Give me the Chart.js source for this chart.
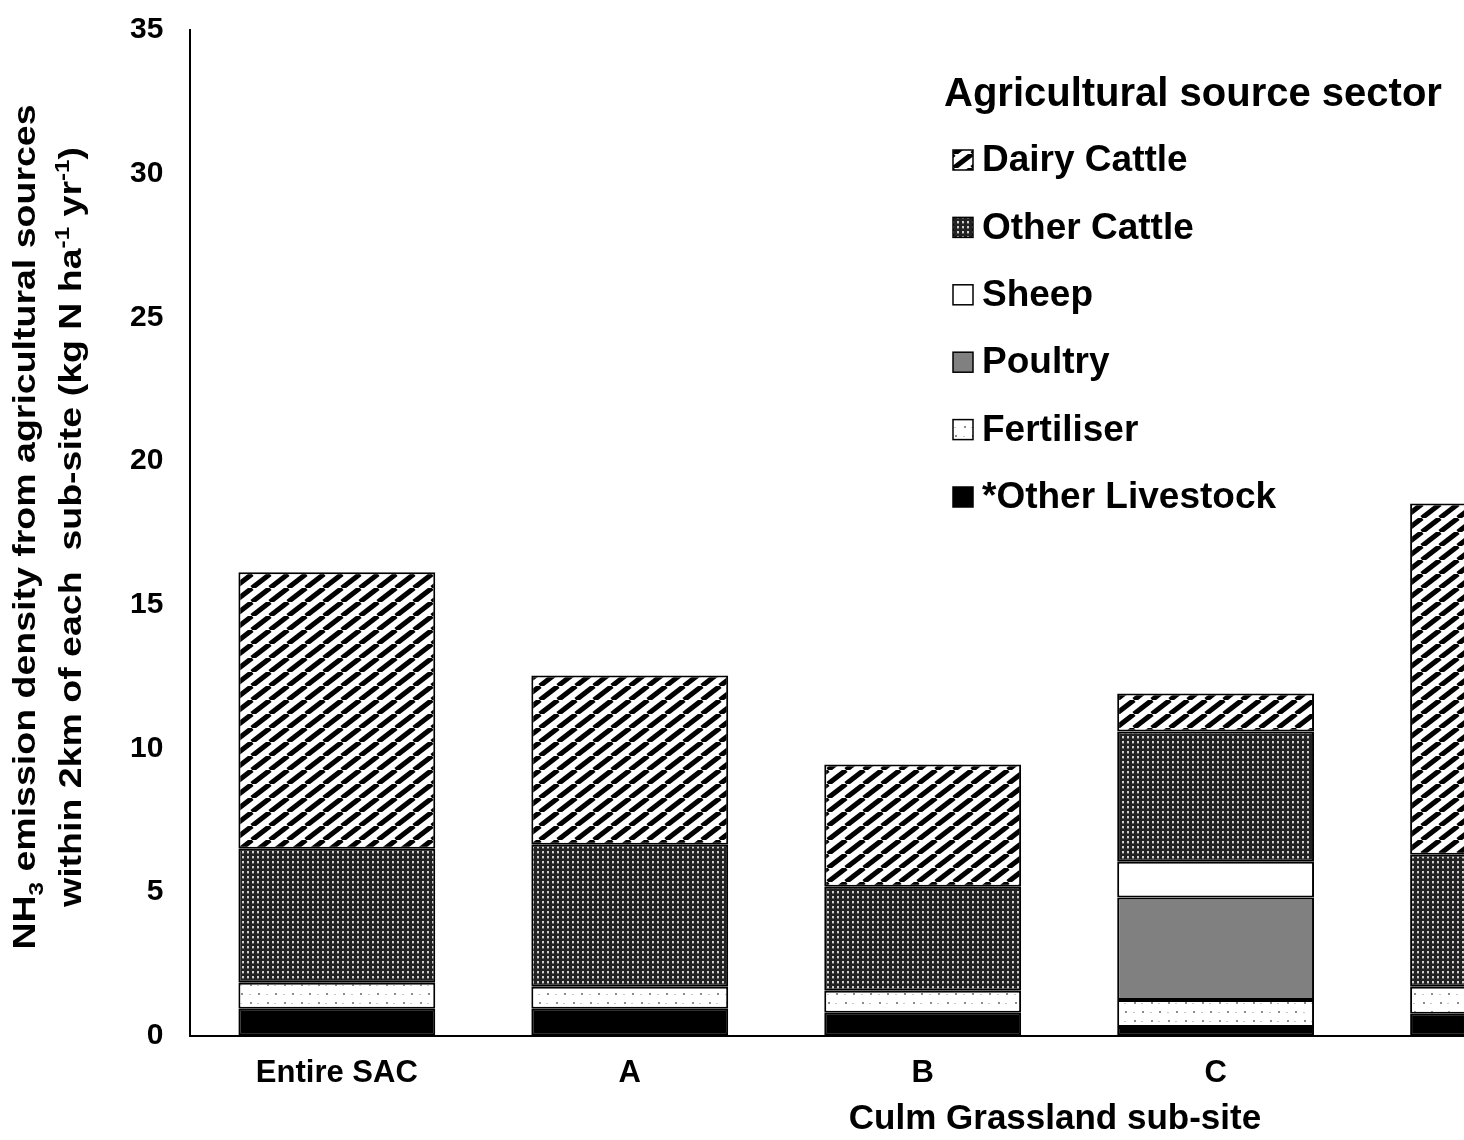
<!DOCTYPE html>
<html>
<head>
<meta charset="utf-8">
<script src="https://cdn.jsdelivr.net/npm/chart.js@4.4.1/dist/chart.umd.min.js"></script>
<style>
  html, body { margin: 0; padding: 0; background: #fff; overflow: hidden; }
  #wrap { width: 1670px; height: 1140px; }
</style>
</head>
<body>
<div id="wrap"><canvas id="emissionChart"></canvas></div>
<script>
const categories = ["Entire SAC", "A", "B", "C", "D"];
const otherLivestock = [0.94, 0.94, 0.8, 0.31, 0.77];
const fertiliser = [0.91, 0.77, 0.77, 0.94, 0.94];
const poultry = [0, 0, 0, 3.56, 0];
const sheep = [0, 0, 0, 1.25, 0];
const otherCattle = [4.66, 4.94, 3.62, 4.53, 4.59];
const dairyCattle = [9.62, 5.89, 4.25, 1.32, 12.22];
const yTicks = [0, 5, 10, 15, 20, 25, 30, 35];

const FONT = "'Liberation Sans', Arial, sans-serif";

// fill patterns like the old excel hatches
const makeTile = (w, h, draw) => {
  let c = document.createElement("canvas");
  c.width = w;
  c.height = h;
  let g = c.getContext("2d");
  draw(g, w, h);
  return document.createElement("canvas").getContext("2d").createPattern(c, "repeat");
};

const stripes = makeTile(18, 14, (g, w, h) => {
  g.fillStyle = "#fff";
  g.fillRect(0, 0, w, h);
  g.strokeStyle = "#000";
  g.lineWidth = 5;
  [-w, 0, w].forEach((dx) => {
    g.beginPath();
    g.moveTo(dx, h);
    g.lineTo(dx + w, 0);
    g.stroke();
  });
});

const darkGrid = makeTile(5, 5, (g, w, h) => {
  g.fillStyle = "#222";
  g.fillRect(0, 0, w, h);
  g.fillStyle = "#cfcfcf";
  g.fillRect(2, 1, 2, 2);
  g.fillStyle = "#666";
  g.fillRect(2, 3, 2, 1);
});

const lightDots = makeTile(17, 18, (g, w, h) => {
  g.fillStyle = "#fff";
  g.fillRect(0, 0, w, h);
  g.fillStyle = "#8c8c8c";
  g.fillRect(3, 3, 2, 2);
  g.fillRect(12, 12, 2, 2);
  g.fillStyle = "#c8c8c8";
  g.fillRect(11, 4, 2, 1);
  g.fillRect(2, 13, 2, 1);
});

const seg = (label, data, fill) => ({
  label: label,
  data: data,
  backgroundColor: fill,
  borderColor: "#000",
  borderWidth: 2,
  borderSkipped: false,
  categoryPercentage: 1,
  barPercentage: 0.672,
});

// y title with sub / superscripts, plus the x title
const titlesPlugin = {
  id: "titles",
  afterDraw(chart) {
    let ctx = chart.ctx;
    let lines = [
      { x: 35, parts: [["NH", 0], ["3", 1], [" emission density from agricultural sources", 0]] },
      { x: 81, parts: [["within 2km of each  sub-site (kg N ha", 0], ["-1", -1], [" yr", 0], ["-1", -1], [")", 0]] },
    ];
    let big = "bold 31px " + FONT;
    let small = "bold 20px " + FONT;
    lines.forEach((line) => {
      ctx.save();
      ctx.translate(line.x, 527);
      ctx.rotate(-Math.PI / 2);
      ctx.scale(1.21, 1);
      ctx.fillStyle = "#000";
      ctx.textBaseline = "alphabetic";
      let total = 0;
      line.parts.forEach(([t, k]) => {
        ctx.font = k === 0 ? big : small;
        total += ctx.measureText(t).width;
      });
      let pos = -total / 2;
      line.parts.forEach(([t, k]) => {
        ctx.font = k === 0 ? big : small;
        ctx.fillText(t, pos, k === 1 ? 8 : k === -1 ? -12 : 0);
        pos += ctx.measureText(t).width;
      });
      ctx.restore();
    });

    ctx.save();
    ctx.font = "bold 35px " + FONT;
    ctx.fillStyle = "#000";
    ctx.textAlign = "center";
    ctx.textBaseline = "middle";
    ctx.fillText("Culm Grassland sub-site", 1055, 1119);
    ctx.restore();
  },
};

const legendPlugin = {
  id: "sideLegend",
  afterDraw(chart) {
    let ctx = chart.ctx;
    ctx.save();
    ctx.fillStyle = "#000";
    ctx.font = "bold 40px " + FONT;
    ctx.textBaseline = "alphabetic";
    ctx.fillText("Agricultural source sector", 944, 106);
    let sets = chart.data.datasets.slice().reverse();
    sets.forEach((ds, i) => {
      let cy = 160 + i * 67.4;
      ctx.fillStyle = ds.backgroundColor;
      ctx.fillRect(953, cy - 10, 20, 20);
      ctx.strokeStyle = "#000";
      ctx.lineWidth = 1.5;
      ctx.strokeRect(953, cy - 10, 20, 20);
      ctx.fillStyle = "#000";
      ctx.font = "bold 37px " + FONT;
      ctx.textBaseline = "middle";
      ctx.fillText(ds.label, 982, cy + 1);
    });
    ctx.restore();
  },
};

let ctx = document.getElementById("emissionChart").getContext("2d");
new Chart(ctx, {
  type: "bar",
  data: {
    labels: categories,
    datasets: [
      seg("*Other Livestock", otherLivestock, "#000"),
      seg("Fertiliser", fertiliser, lightDots),
      seg("Poultry", poultry, "#808080"),
      seg("Sheep", sheep, "#fff"),
      seg("Other Cattle", otherCattle, darkGrid),
      seg("Dairy Cattle", dairyCattle, stripes),
    ],
  },
  plugins: [titlesPlugin, legendPlugin],
  options: {
    responsive: true,
    maintainAspectRatio: false,
    animation: false,
    layout: { padding: { left: 118, right: 15, top: 17, bottom: 29 } },
    plugins: {
      legend: { display: false },
      tooltip: { enabled: false },
    },
    scales: {
      x: {
        stacked: true,
        grid: { display: false, drawTicks: false },
        border: { display: true, color: "#000", width: 2 },
        ticks: {
          color: "#000",
          padding: 19,
          font: { family: FONT, size: 31, weight: "bold" },
        },
      },
      y: {
        stacked: true,
        min: 0,
        max: 35,
        afterBuildTicks: (axis) => {
          axis.ticks = yTicks.map((v) => ({ value: v }));
        },
        grid: {
          display: true,
          drawOnChartArea: false,
          drawTicks: true,
          tickLength: 15,
          tickColor: "rgba(0,0,0,0)",
        },
        border: { display: true, color: "#000", width: 2 },
        ticks: {
          color: "#000",
          padding: 12,
          font: { family: FONT, size: 30, weight: "bold" },
        },
      },
    },
  },
});
</script>
</body>
</html>
